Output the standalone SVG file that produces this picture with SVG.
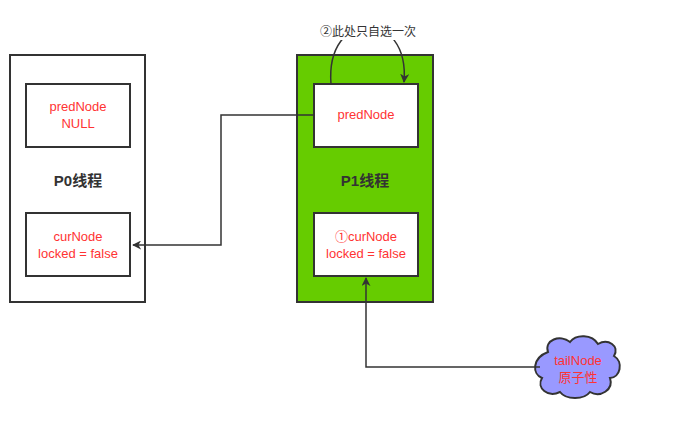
<svg xmlns="http://www.w3.org/2000/svg" width="683" height="421" viewBox="0 0 683 421">
<defs>
<style>
.box{fill:#fff;stroke:#333;stroke-width:2}
.grn{fill:#66CC00;stroke:#333;stroke-width:2}
.t{font-family:"Liberation Sans","Noto Sans CJK SC",sans-serif;font-size:13px;fill:#FF3333;text-anchor:middle}
.h{font-family:"Liberation Sans","Noto Sans CJK SC",sans-serif;font-size:15px;font-weight:bold;fill:#333;text-anchor:middle}
.c{fill:none;stroke:#333;stroke-width:1.5}
</style>
<marker id="ah" viewBox="0 0 10 10" refX="9" refY="5" markerWidth="9" markerHeight="9" orient="auto" markerUnits="userSpaceOnUse">
<path d="M0,0 L10,5 L0,10 L3,5 Z" fill="#333"/>
</marker>
</defs>
<rect width="683" height="421" fill="#fff"/>
<g id="p0">
<rect class="box" x="10" y="55" width="135" height="247"/>
<text class="h" x="78" y="186">P0线程</text>
</g>
<g id="p0pred">
<rect class="box" x="26" y="84" width="104" height="63"/>
<text class="t" x="78" y="111">predNode</text>
<text class="t" x="78" y="128">NULL</text>
</g>
<g id="p0cur">
<rect class="box" x="26" y="213" width="104" height="63"/>
<text class="t" x="78" y="241">curNode</text>
<text class="t" x="78" y="258">locked = false</text>
</g>
<g id="p1">
<rect class="grn" x="297" y="55" width="136" height="247"/>
<text class="h" x="365" y="186">P1线程</text>
</g>
<g id="p1pred">
<rect class="box" x="314" y="84" width="104" height="63"/>
<text class="t" x="366" y="119">predNode</text>
</g>
<g id="p1cur">
<rect class="box" x="314" y="213" width="104" height="63"/>
<text class="t" x="366" y="241">①curNode</text>
<text class="t" x="366" y="258">locked = false</text>
</g>
<g id="tail">
<path d="M548,352 C544,340 560,334 570,342 C576,334 592,334 598,344 C608,338 620,346 614,356 C624,362 620,378 610,378 C614,390 600,398 590,392 C584,400 566,400 560,392 C548,398 536,388 542,378 C532,374 532,358 548,352 Z" fill="#9999FF" stroke="#333" stroke-width="2"/>
<text class="t" x="578" y="365">tailNode</text>
<text class="t" x="578" y="382">原子性</text>
</g>
<g id="connectors">
<path class="c" d="M314,115 H221 V245 H133" marker-end="url(#ah)"/>
<path class="c" d="M540,367 H366 V278" marker-end="url(#ah)"/>
<path class="c" d="M331,84 C325,8 410,8 404,82" marker-end="url(#ah)"/>
</g>
<g id="label">
<rect x="319" y="23" width="98" height="17" fill="#fff"/>
<text x="368" y="36" style="font-family:'Liberation Sans','Noto Sans CJK SC',sans-serif;font-size:12px;fill:#333;text-anchor:middle">②此处只自选一次</text>
</g>
</svg>
